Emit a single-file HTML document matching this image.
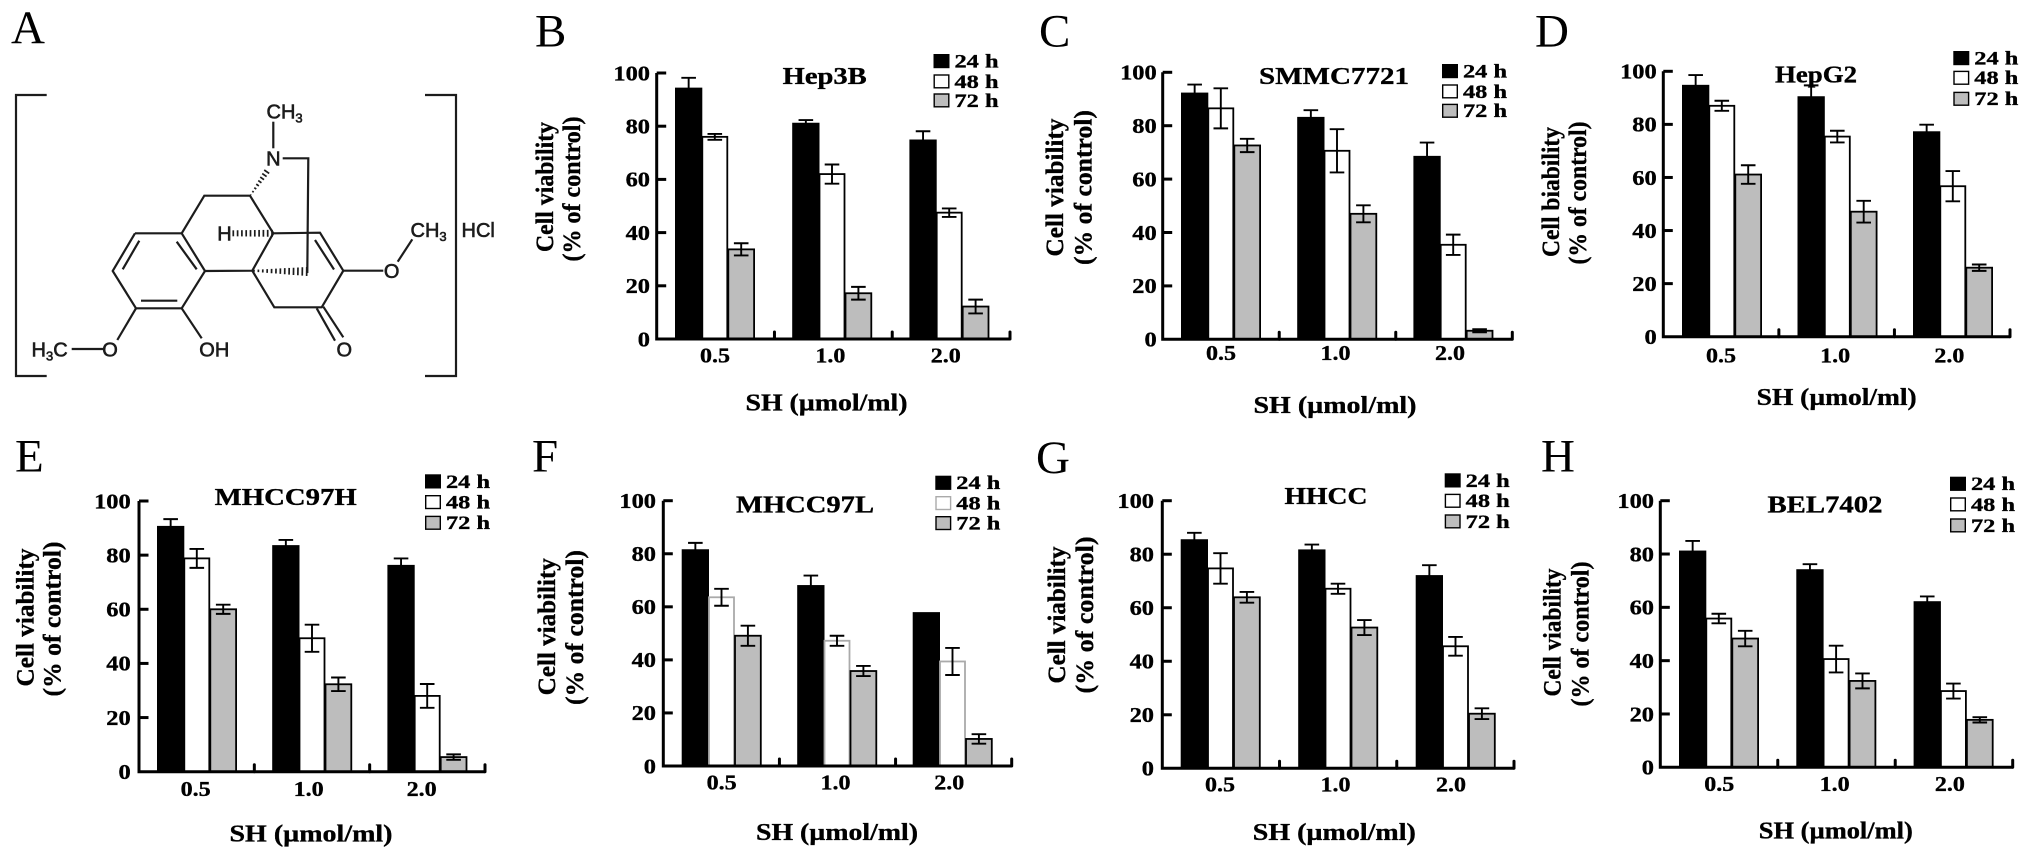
<!DOCTYPE html>
<html lang="en">
<head>
<meta charset="utf-8">
<title>Cell viability panels</title>
<style>
html,body{margin:0;padding:0;background:#fff;}
svg{display:block;}
text{font-family:"Liberation Serif",serif;fill:#000;}
.chem line,.chem polyline{stroke:#1c1c1c;stroke-width:2.2;fill:none;}
.chem text{font-family:"Liberation Sans",sans-serif;font-size:20px;fill:#1c1c1c;stroke:#1c1c1c;stroke-width:.6;}
.letter{font-size:47px;font-weight:normal;}
.bold{font-weight:bold;stroke:#000;stroke-width:.35;}
</style>
</head>
<body>
<svg id="figure" xmlns="http://www.w3.org/2000/svg" width="2031" height="859" viewBox="0 0 2031 859">
  <rect x="0" y="0" width="2031" height="859" fill="#fff"/>
  <text class="letter" x="11" y="43">A</text>
  <g class="chem" id="chem">
    <polyline points="46.7,95 16,95 16,376 46.7,376"/>
    <polyline points="425,95 456,95 456,376 425,376"/>
    <polyline points="135,233.3 181.7,233.3 205,271 181.7,308.3 136,308.3 112.7,271 135,233.3"/>
    <line x1="139.3" y1="240.7" x2="122.7" y2="269.3"/>
    <line x1="176.7" y1="241.7" x2="196.7" y2="269.3"/>
    <line x1="141" y1="300.7" x2="177.3" y2="300.7"/>
    <polyline points="181.7,233.3 204.3,195.7 250,195.7 273.3,233.3 252.3,270.7 205,271"/>
    <polyline points="273.3,233.3 320,232.7 343.3,270.7 321.7,307.3 274.3,307.3 252.3,270.7"/>
    <line x1="315" y1="240" x2="334" y2="269.5"/>
    <line x1="316.7" y1="308.3" x2="335" y2="340.7"/>
    <line x1="323.3" y1="306.7" x2="343.3" y2="337.3"/>
    <line x1="181.7" y1="308.3" x2="201.7" y2="338.3"/>
    <line x1="136" y1="308.3" x2="117.3" y2="340"/>
    <line x1="103.3" y1="349" x2="71.7" y2="349"/>
    <line x1="343.3" y1="270.7" x2="383.3" y2="270.7"/>
    <line x1="397.7" y1="261.7" x2="412.3" y2="239.3"/>
    <line x1="273.3" y1="121.7" x2="273.3" y2="148.3"/>
    <polyline points="282.7,158.3 308.3,158.3 307.3,273"/>
    <text x="266.5" y="118.5">CH<tspan font-size="13" dy="4">3</tspan></text>
    <text x="273.3" y="165.5" text-anchor="middle">N</text>
    <text x="224.5" y="240.5" text-anchor="middle">H</text>
    <text x="391.7" y="278" text-anchor="middle">O</text>
    <text x="410.5" y="237">CH<tspan font-size="13" dy="4">3</tspan></text>
    <text x="461.5" y="237" stroke-width=".9">HCl</text>
    <text x="344.3" y="356.3" text-anchor="middle">O</text>
    <text x="214.3" y="356.3" text-anchor="middle">OH</text>
    <text x="110" y="356.3" text-anchor="middle">O</text>
    <text x="31.5" y="356.3">H<tspan font-size="13" dy="4">3</tspan><tspan dy="-4">C</tspan></text>
  </g>
</svg>
<script>
const categories = ['0.5', '1.0', '2.0'];
const seriesNames = ['24 h', '48 h', '72 h'];
const tickValues = [0, 20, 40, 60, 80, 100];

const hep3b24 = [94.5, 81.3, 75];
const hep3b24Err = [3.7, 1, 3.1];
const hep3b48 = [76, 62, 47.5];
const hep3b48Err = [1.1, 3.6, 1.6];
const hep3b72 = [33.7, 17.2, 12.2];
const hep3b72Err = [2.3, 2.4, 2.6];

const smmc24 = [92.4, 83.3, 68.7];
const smmc24Err = [3, 2.5, 5];
const smmc48 = [86.5, 70.6, 35.4];
const smmc48Err = [7.5, 8.1, 3.8];
const smmc72 = [72.6, 47, 3.2];
const smmc72Err = [2.5, 3.2, 0.6];

const hepg224 = [94.9, 90.6, 77.4];
const hepg224Err = [3.7, 4.1, 2.5];
const hepg248 = [87, 75.4, 56.7];
const hepg248Err = [1.9, 2.2, 5.7];
const hepg272 = [61.1, 47.1, 26];
const hepg272Err = [3.5, 4.1, 1.2];

const mh24 = [90.8, 83.7, 76.4];
const mh24Err = [2.5, 1.9, 2.4];
const mh48 = [78.8, 49.3, 28];
const mh48Err = [3.5, 5, 4.4];
const mh72 = [60, 32.3, 5.4];
const mh72Err = [1.7, 2.5, 1];

const ml24 = [81.7, 68.2, 58];
const ml24Err = [2.4, 3.6, 0];
const ml48 = [63.6, 47.2, 39.4];
const ml48Err = [3.2, 1.9, 5.1];
const ml72 = [49.1, 35.8, 10.2];
const ml72Err = [3.8, 1.9, 1.8];

const hhcc24 = [85.6, 81.8, 72.2];
const hhcc24Err = [2.4, 1.8, 3.7];
const hhcc48 = [74.7, 67.1, 45.6];
const hhcc48Err = [5.7, 1.9, 3.5];
const hhcc72 = [63.9, 52.6, 20.4];
const hhcc72Err = [2, 2.8, 2];

const bel24 = [81.3, 74.3, 62.3];
const bel24Err = [3.6, 1.9, 1.8];
const bel48 = [55.8, 40.6, 28.6];
const bel48Err = [1.8, 5, 2.8];
const bel72 = [48.3, 32.4, 17.8];
const bel72Err = [2.9, 2.8, 1];

const NS = 'http://www.w3.org/2000/svg';
const root = document.getElementById('figure');
const chem = document.getElementById('chem');

function make(parent, tag, attrs) {
  const el = document.createElementNS(NS, tag);
  for (const k in attrs) el.setAttribute(k, attrs[k]);
  parent.appendChild(el);
  return el;
}

function hash(x1, y1, x2, y2, n, w1, w2, nameStr) {
  const len = Math.hypot(x2 - x1, y2 - y1);
  const nx = -(y2 - y1) / len, ny = (x2 - x1) / len;
  for (let i = 0; i < n; i++) {
    const t = i / (n - 1);
    const cx = x1 + (x2 - x1) * t, cy = y1 + (y2 - y1) * t;
    const w = (w1 + (w2 - w1) * t) / 2;
    const l = make(chem, 'line', {x1: cx - nx * w, y1: cy - ny * w, x2: cx + nx * w, y2: cy + ny * w, style: 'stroke-width:1.7'});
    
    
  }
}
hash(266.7, 171.7, 250.7, 195, 8, 6, 1, 'n-hash-bond');
hash(233.3, 233.3, 272, 233.3, 10, 6, 7, 'h-hash-bond');
hash(254, 270.8, 306.7, 271.5, 13, 2, 9, 'bridge-hash-bond');

const panels = [
  {id: 'hep3b', letter: 'B', title: 'Hep3B', yTitle: 'Cell viability', means: [hep3b24, hep3b48, hep3b72], errs: [hep3b24Err, hep3b48Err, hep3b72Err],
   ax: 656.7, end: 1010, top: 73, base: 339, start: 675, pitch: 117.2, tickR: 650, xLab: 715, xLabStep: 115.4, xLabY: 362.7,
   letterX: 535, letterY: 46.7, titleX: 824.7, titleY: 84, titleLen: 84, shX: 826.5, shY: 410.7, shLen: 162,
   y1X: 553, y1Y: 187, y1Len: 130, y2X: 580, y2Y: 189, y2Len: 145, lx: 933.5, ly: [54, 74.3, 93.3]},
  {id: 'smmc7721', letter: 'C', title: 'SMMC7721', yTitle: 'Cell viability', means: [smmc24, smmc48, smmc72], errs: [smmc24Err, smmc48Err, smmc72Err],
   ax: 1162.7, end: 1512.3, top: 72.3, base: 339.3, start: 1181, pitch: 116.2, tickR: 1156.7, xLab: 1221, xLabStep: 114.5, xLabY: 360,
   letterX: 1039, letterY: 46.7, titleX: 1334, titleY: 84, titleLen: 150, shX: 1335, shY: 413, shLen: 163,
   y1X: 1063, y1Y: 187.5, y1Len: 138, y2X: 1091.7, y2Y: 187.5, y2Len: 155, lx: 1442, ly: [64, 84.3, 103.7]},
  {id: 'hepg2', letter: 'D', title: 'HepG2', yTitle: 'Cell biability', means: [hepg224, hepg248, hepg272], errs: [hepg224Err, hepg248Err, hepg272Err],
   ax: 1663.3, end: 2010, top: 71.3, base: 336.7, start: 1682, pitch: 115.5, tickR: 1656.7, xLab: 1721, xLabStep: 114.2, xLabY: 362.7,
   letterX: 1535, letterY: 46.7, titleX: 1816, titleY: 82.7, titleLen: 82, shX: 1836.7, shY: 405, shLen: 160,
   y1X: 1559, y1Y: 192, y1Len: 130, y2X: 1586, y2Y: 193, y2Len: 143, lx: 1953.3, ly: [51, 70.7, 91.7]},
  {id: 'mhcc97h', letter: 'E', title: 'MHCC97H', yTitle: 'Cell viability', means: [mh24, mh48, mh72], errs: [mh24Err, mh48Err, mh72Err],
   ax: 139, end: 485, top: 501, base: 771.7, start: 157, pitch: 115.2, tickR: 130.7, xLab: 195.7, xLabStep: 113, xLabY: 796,
   letterX: 15, letterY: 471.7, titleX: 285.7, titleY: 505, titleLen: 142, shX: 311, shY: 841.7, shLen: 163,
   y1X: 33.3, y1Y: 617.5, y1Len: 138, y2X: 60.7, y2Y: 619, y2Len: 155, lx: 425, ly: [474.3, 495, 515.7]},
  {id: 'mhcc97l', letter: 'F', title: 'MHCC97L', yTitle: 'Cell viability', means: [ml24, ml48, ml72], errs: [ml24Err, ml48Err, ml72Err], whiteStroke: '#aaa',
   ax: 663.3, end: 1011.7, top: 500.7, base: 766, start: 681.7, pitch: 115.5, tickR: 656, xLab: 721.7, xLabStep: 113.8, xLabY: 789.3,
   letterX: 532, letterY: 471.7, titleX: 805, titleY: 512.7, titleLen: 138, shX: 837, shY: 840, shLen: 162,
   y1X: 555, y1Y: 626.7, y1Len: 137, y2X: 583, y2Y: 627.5, y2Len: 155, lx: 935.3, ly: [475.7, 496, 516]},
  {id: 'hhcc', letter: 'G', title: 'HHCC', yTitle: 'Cell viability', means: [hhcc24, hhcc48, hhcc72], errs: [hhcc24Err, hhcc48Err, hhcc72Err],
   ax: 1162.3, end: 1514, top: 500.7, base: 768.3, start: 1180.7, pitch: 117.5, tickR: 1154, xLab: 1220, xLabStep: 115.5, xLabY: 791.7,
   letterX: 1036, letterY: 473, titleX: 1326, titleY: 504, titleLen: 83, shX: 1334.3, shY: 840, shLen: 163,
   y1X: 1065, y1Y: 615, y1Len: 137, y2X: 1093, y2Y: 615, y2Len: 157, lx: 1444.7, ly: [473.3, 493.7, 514.3]},
  {id: 'bel7402', letter: 'H', title: 'BEL7402', yTitle: 'Cell viability', means: [bel24, bel48, bel72], errs: [bel24Err, bel48Err, bel72Err],
   ax: 1660.3, end: 2012.7, top: 500.7, base: 767.3, start: 1679, pitch: 117.3, tickR: 1654, xLab: 1719.3, xLabStep: 115.3, xLabY: 791,
   letterX: 1541, letterY: 471.7, titleX: 1825, titleY: 512.3, titleLen: 115, shX: 1835.8, shY: 838.3, shLen: 154,
   y1X: 1560.7, y1Y: 632.5, y1Len: 128, y2X: 1588.3, y2Y: 634, y2Len: 145, lx: 1950, ly: [476.7, 497.3, 518.3]}
];

const seriesFill = ['#000', '#fff', '#bdbdbd'];
const barOffset = [0, 27.3, 53.3];
const barWidth = [27.3, 25, 25.8];
const stretch = 'spacingAndGlyphs';

function addText(parent, str, attrs, nameStr) {
  const t = make(parent, 'text', attrs);
  t.textContent = str;
  
  
  return t;
}

function drawPanel(p) {
  const g = make(root, 'g', {});
  
  

  const yScale = v => p.base - (v / 100) * (p.base - p.top);
  const xGroup = i => p.start + i * p.pitch;
  const xTick = i => p.ax + (i + 1) * (p.end - p.ax) / 3;

  addText(g, p.letter, {class: 'letter', x: p.letterX, y: p.letterY}, 'panel-letter');
  addText(g, p.title, {class: 'bold', x: p.titleX, y: p.titleY, 'text-anchor': 'middle', 'font-size': 24, textLength: p.titleLen, lengthAdjust: stretch}, 'panel-title');
  addText(g, 'SH (µmol/ml)', {class: 'bold', x: p.shX, y: p.shY, 'text-anchor': 'middle', 'font-size': 24, textLength: p.shLen, lengthAdjust: stretch}, 'x-axis-title');
  addText(g, p.yTitle, {class: 'bold', x: p.y1X, y: p.y1Y, 'text-anchor': 'middle', 'font-size': 25, textLength: p.y1Len, lengthAdjust: stretch, transform: 'rotate(-90 ' + p.y1X + ' ' + p.y1Y + ')'}, 'y-axis-title');
  addText(g, '(% of control)', {class: 'bold', x: p.y2X, y: p.y2Y, 'text-anchor': 'middle', 'font-size': 25, textLength: p.y2Len, lengthAdjust: stretch, transform: 'rotate(-90 ' + p.y2X + ' ' + p.y2Y + ')'}, 'y-axis-subtitle');

  categories.forEach((c, i) => {
    seriesNames.forEach((s, k) => {
      const v = p.means[k][i];
      const x = xGroup(i) + barOffset[k];
      const stroke = (k === 1 && p.whiteStroke) ? p.whiteStroke : '#000';
      const bar = make(g, 'rect', {x: x, y: yScale(v), width: barWidth[k], height: p.base - yScale(v), fill: seriesFill[k], stroke: stroke, 'stroke-width': k === 0 ? 0 : 1.8});
      
      
    });
    seriesNames.forEach((s, k) => {
      const v = p.means[k][i];
      const e = p.errs[k][i];
      if (!e) return;
      const cx = xGroup(i) + barOffset[k] + barWidth[k] / 2;
      const eb = make(g, 'path', {d: 'M' + (cx - 7.3) + ' ' + yScale(v + e) + 'H' + (cx + 7.3) + 'M' + (cx - 7.3) + ' ' + yScale(v - e) + 'H' + (cx + 7.3) + 'M' + cx + ' ' + yScale(v + e) + 'V' + yScale(v - e), stroke: '#000', 'stroke-width': 1.9, fill: 'none'});
      
      
    });
    addText(g, c, {class: 'bold', x: p.xLab + i * p.xLabStep, y: p.xLabY, 'text-anchor': 'middle', 'font-size': 21, textLength: 30, lengthAdjust: stretch}, 'x-tick-label');
    const tk = make(g, 'line', {x1: xTick(i), x2: xTick(i), y1: p.base, y2: p.base - 7, stroke: '#000', 'stroke-width': 3, 'stroke-linecap': 'round'});
    
    
  });

  const axes = make(g, 'path', {d: 'M' + p.ax + ' ' + p.top + 'V' + p.base + 'H' + p.end, stroke: '#000', 'stroke-width': 3, fill: 'none'});
  
  

  tickValues.forEach(v => {
    const y = yScale(v);
    if (v > 0) {
      const tk = make(g, 'line', {x1: p.ax, x2: p.ax + 9.5, y1: y, y2: y, stroke: '#000', 'stroke-width': 3});
      
      
    }
    const s = String(v);
    addText(g, s, {class: 'bold', x: p.tickR, y: y + 7.3, 'text-anchor': 'end', 'font-size': 21, textLength: s.length * 12.2, lengthAdjust: stretch}, 'y-tick-label');
  });

  seriesNames.forEach((s, k) => {
    const stroke = (k === 1 && p.whiteStroke) ? p.whiteStroke : '#000';
    const sw = make(g, 'rect', {x: p.lx + 0.7, y: p.ly[k] + 0.7, width: 14.6, height: 12.8, fill: seriesFill[k], stroke: stroke, 'stroke-width': 1.4});
    
    
    addText(g, s, {class: 'bold', x: p.lx + 21, y: p.ly[k] + 13.5, 'font-size': 19, textLength: 44, lengthAdjust: stretch}, 'legend-label');
  });
}

panels.forEach(drawPanel);
</script>
</body>
</html>
